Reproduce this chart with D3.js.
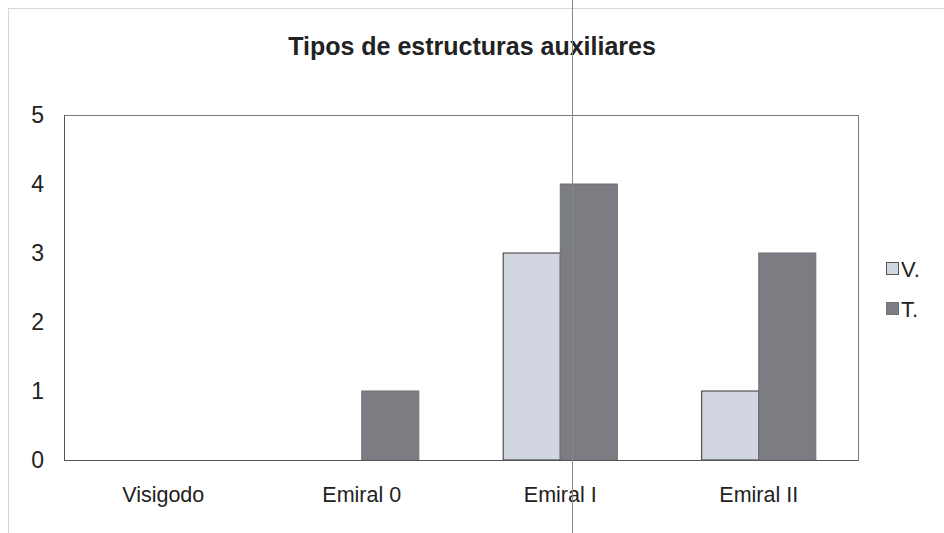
<!DOCTYPE html>
<html><head><meta charset="utf-8">
<script src="https://cdn.jsdelivr.net/npm/d3@7"></script>
<style>body{margin:0;background:#fff;}svg{display:block;font-family:"Liberation Sans",Arial,sans-serif;}</style>
</head><body>
<svg id="c" width="944" height="533"></svg>
<script>
const categories = ["Visigodo", "Emiral 0", "Emiral I", "Emiral II"];
const seriesNames = ["V.", "T."];
const valuesV = [0, 0, 3, 1];
const valuesT = [0, 1, 4, 3];
const yTicks = [0, 1, 2, 3, 4, 5];
const title = "Tipos de estructuras auxiliares";
const colors = ["#d2d6e0", "#7b7d82"];

const svg = d3.select("#c");
const m = {left: 64, right: 858, top: 115, bottom: 460};

// outer frame
svg.append("rect").attr("x", 8.5).attr("y", 8.5).attr("width", 960).attr("height", 560)
  .attr("fill", "none").attr("stroke", "#d8d8d8");

const x0 = d3.scaleBand().domain(categories).range([m.left, m.right]).paddingInner(0.425).paddingOuter(0.2125);
const x1 = d3.scaleBand().domain(seriesNames).range([0, x0.bandwidth()]);
const y = d3.scaleLinear().domain([0, 5]).range([m.bottom, m.top]);

// plot border
svg.append("rect").attr("x", m.left + 0.5).attr("y", m.top + 0.5)
  .attr("width", m.right - m.left).attr("height", m.bottom - m.top)
  .attr("fill", "none").attr("stroke", "#777").attr("stroke-width", 1);

const data = categories.map((c, i) => ({cat: c, vals: [valuesV[i], valuesT[i]]}));
const g = svg.append("g");
data.forEach(d => {
  d.vals.forEach((v, j) => {
    if (v <= 0) return;
    g.append("rect")
      .attr("x", x0(d.cat) + x1(seriesNames[j]))
      .attr("y", y(v))
      .attr("width", x1.bandwidth())
      .attr("height", y(0) - y(v))
      .attr("fill", colors[j])
      .attr("stroke", j === 0 ? "#333" : "#6f7175")
      .attr("stroke-width", 1);
  });
});

// axis lines
svg.append("line").attr("x1", m.left).attr("x2", m.right).attr("y1", m.bottom + 0.5).attr("y2", m.bottom + 0.5)
  .attr("stroke", "#555");
svg.append("line").attr("x1", m.left + 0.5).attr("x2", m.left + 0.5).attr("y1", m.top).attr("y2", m.bottom)
  .attr("stroke", "#555");

// y axis
const yAxis = d3.axisLeft(y).tickValues(yTicks).tickSize(0).tickPadding(20).tickFormat(d3.format("d"));
const ya = svg.append("g").attr("transform", `translate(${m.left},0)`).call(yAxis);
ya.select(".domain").remove();
ya.selectAll("text").attr("font-size", 23).attr("fill", "#222").attr("font-family", "'Liberation Sans',Arial,sans-serif");

// x axis
const xAxis = d3.axisBottom(x0).tickSize(0).tickPadding(27);
const xa = svg.append("g").attr("transform", `translate(0,${m.bottom})`).call(xAxis);
xa.select(".domain").remove();
xa.selectAll("text").attr("font-size", 21.5).attr("fill", "#222").attr("font-family", "'Liberation Sans',Arial,sans-serif");

// title
svg.append("text").attr("x", 472).attr("y", 55).attr("text-anchor", "middle")
  .attr("font-size", 25).attr("font-weight", "bold").attr("fill", "#222").text(title);

// legend
const lg = svg.append("g").attr("transform", "translate(886,262)");
seriesNames.forEach((s, i) => {
  const row = lg.append("g").attr("transform", `translate(0,${i * 40})`);
  row.append("rect").attr("x", 0.5).attr("y", 0.5).attr("width", 12).attr("height", 12)
    .attr("fill", colors[i]).attr("stroke", i === 0 ? "#555" : "#6f7175");
  row.append("text").attr("x", 15).attr("y", 15).attr("font-size", 22).attr("fill", "#222").text(s);
});

// scan line artifact
svg.append("line").attr("x1", 572.5).attr("x2", 572.5).attr("y1", 0).attr("y2", 533)
  .attr("stroke", "#888").attr("stroke-width", 1);
</script>
</body></html>
